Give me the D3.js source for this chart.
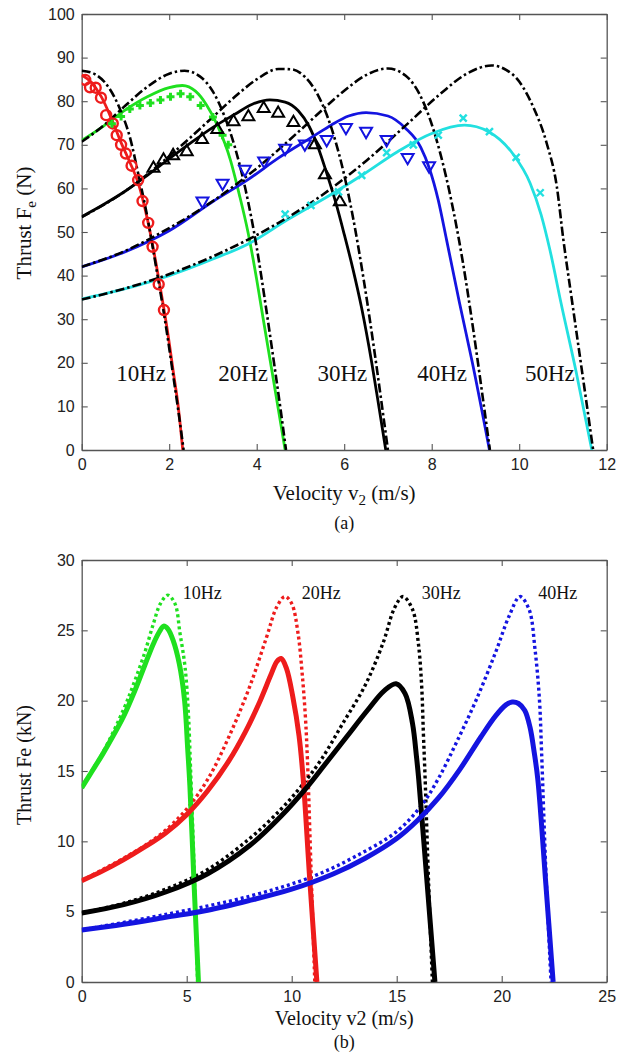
<!DOCTYPE html>
<html><head><meta charset="utf-8">
<script src="https://cdn.jsdelivr.net/npm/d3@7"></script>
<style>body{margin:0;background:#fff}svg{display:block}</style>
</head><body><svg id="c" width="629" height="1055"></svg>
<script>
// ---------------- DATA : panel (a) ----------------
const aXTicks = [0, 2, 4, 6, 8, 10, 12];
const aYTicks = [0, 10, 20, 30, 40, 50, 60, 70, 80, 90, 100];
const aFreqLabels = ["10Hz", "20Hz", "30Hz", "40Hz", "50Hz"];
const aFreqLabelX = [0.79, 3.12, 5.39, 7.67, 10.13];
const aFreqLabelY = 15.8;

// dash-dot (theory) curves
const aDash10 = [[0,87],[0.3,86.2],[0.6,83.4],[0.9,77.6],[1.1,71.8],[1.3,63],[1.5,53.5],[1.7,42],[1.9,30],[2.1,16.5],[2.2,9.6],[2.33,0]];
const aDash20 = [[0,70.7],[0.5,74.4],[1,79],[1.5,83.3],[2,86.3],[2.35,87],[2.7,85.7],[3,82.2],[3.25,76.9],[3.5,69.5],[3.75,59.5],[4,46.5],[4.2,33.5],[4.4,19.7],[4.55,9],[4.67,0]];
const aDash30 = [[0,53.4],[1,59.4],[2,67.4],[2.5,71.8],[3,76.4],[3.5,81],[4,85],[4.5,87.4],[4.8,87.3],[5.1,85.6],[5.4,81.4],[5.7,74.1],[5.95,65.2],[6.2,53.4],[6.45,38.8],[6.7,22],[6.85,11.1],[7,0]];
const aDash40 = [[0,42],[1,45.7],[2,50.9],[3,57.1],[4,64.6],[5,73.4],[5.5,78],[6,82.4],[6.5,86],[7,87.5],[7.4,85.9],[7.8,80],[8.1,71.5],[8.4,59.5],[8.7,43.8],[8.95,27.6],[9.15,13.3],[9.33,0]];
const aDash50 = [[0,34.5],[1.5,38.6],[3,44.4],[4.5,52.1],[5.5,58.5],[6.5,66.3],[7.5,75.3],[8.2,81.7],[8.8,86.3],[9.37,88.2],[9.7,87.2],[10,84.5],[10.32,78.7],[10.63,70.3],[10.86,60.4],[11.01,48.2],[11.2,34.7],[11.39,21.3],[11.55,10],[11.69,0]];

// solid (simulation) curves
const aLine10 = [[0,86],[0.2,84.5],[0.45,81],[0.7,75.5],[0.9,70.5],[1.1,66],[1.3,61],[1.5,53],[1.65,45.5],[1.8,37],[1.95,28],[2.1,17.5],[2.2,10.5],[2.31,0]];
const aLine20 = [[0,71],[0.5,74.3],[1,78],[1.5,81],[2,83.1],[2.3,83.6],[2.6,82.3],[2.85,79.2],[3.1,74.5],[3.4,66.5],[3.6,58.7],[3.8,50],[3.95,42],[4.15,30],[4.4,15],[4.65,0]];
const aLine30 = [[0,53.5],[0.5,56.3],[1,59.4],[1.5,63],[2,66.8],[2.5,70.5],[3,74],[3.5,77],[3.9,79.3],[4.3,80.3],[4.65,79.8],[4.95,77.8],[5.2,74.2],[5.4,69.5],[5.6,63.5],[5.8,57],[6,49.5],[6.2,41.5],[6.4,32.5],[6.63,20],[6.8,9.5],[6.95,0]];
const aLine40 = [[0,42],[1,45.5],[2,50.3],[3,57],[3.8,62],[4.5,67],[5.3,72],[5.7,74.5],[6.1,76.6],[6.5,77.4],[7,76.6],[7.4,73.8],[7.75,69.4],[7.95,64.5],[8.15,57.3],[8.34,48.2],[8.63,34],[8.93,20],[9.32,0]];
const aLine50 = [[0,34.6],[1,37],[2,40],[3,43.8],[3.85,47.5],[4.7,52.8],[5.7,58.6],[6.45,63.3],[7.2,68.3],[8,72.6],[8.75,74.5],[9.3,73],[9.85,68],[10.25,61.2],[10.5,54],[10.7,46],[10.95,34],[11.3,18],[11.66,0]];

// measured markers
const aMark10X = [0.08,0.19,0.32,0.44,0.56,0.71,0.8,0.9,1.01,1.14,1.29,1.39,1.52,1.62,1.76,1.88];
const aMark10Y = [84.9,83.2,83.1,80.8,76.8,74.9,72.2,70,68,65.2,61.9,57.1,52.1,46.6,38,32.1];
const aMark20X = [0.69,0.9,1.1,1.33,1.57,1.8,2.03,2.26,2.48,2.72,3.0,3.22,3.35];
const aMark20Y = [74.8,76.5,78.2,79,79.6,80.3,81,81.7,81,79,76.4,72.2,70];
const aMark30X = [1.64,1.87,2.09,2.4,2.75,3.1,3.47,3.81,4.16,4.49,4.84,5.33,5.56,5.9];
const aMark30Y = [64.6,66.5,67.5,68.4,71.2,73.5,75.3,76.4,78.3,77.2,75.1,70,63.1,56.9];
const aMark40X = [2.76,3.22,3.73,4.17,4.65,5.1,5.6,6.04,6.5,6.97,7.45,7.94];
const aMark40Y = [57.1,61.2,64.4,66.3,69.2,70.2,71.2,74,73.1,71.2,67.1,65.2];
const aMark50X = [4.65,5.24,5.87,6.4,6.97,7.58,8.15,8.72,9.32,9.93,10.48];
const aMark50Y = [54.1,56.1,59.2,63,68.2,70,72.2,76.1,73,67.1,59];

// ---------------- DATA : panel (b) ----------------
const bXTicks = [0, 5, 10, 15, 20, 25];
const bYTicks = [0, 5, 10, 15, 20, 25, 30];
const bFreqLabels = ["10Hz", "20Hz", "30Hz", "40Hz"];
const bFreqLabelX = [4.81, 10.48, 16.19, 21.74];
const bFreqLabelY = 27.2;

const bSolid10 = [[0,13.8],[0.5,15],[1,16.2],[1.5,17.5],[2,18.9],[2.5,20.6],[3,22.5],[3.4,24],[3.7,24.9],[3.9,25.3],[4.1,25.1],[4.35,24.3],[4.65,22.6],[4.9,20],[5.05,16.5],[5.15,14],[5.35,7],[5.56,0]];
const bDot10 = [[0,13.9],[1,16.3],[2,19.4],[2.5,21.3],[3,23.4],[3.4,25.4],[3.75,26.9],[4.1,27.5],[4.44,26.9],[4.68,24.8],[4.92,22.4],[5.08,19.1],[5.18,15.3],[5.32,9.5],[5.52,0]];
const bSolid20 = [[0,7.2],[1,7.9],[2,8.7],[3,9.6],[4,10.6],[5,11.9],[6,13.6],[7,15.7],[7.8,17.8],[8.5,20],[9,21.8],[9.3,22.8],[9.5,23],[9.75,22.3],[10.05,20.3],[10.35,17.5],[10.55,14.4],[10.85,7.5],[11.2,0]];
const bDot20 = [[0,7.2],[1,8],[2,8.8],[3,9.7],[4,10.8],[5,12.3],[6,14.4],[7,17.4],[8,21],[8.8,24.5],[9.3,26.7],[9.68,27.4],[10,26.9],[10.3,24.8],[10.5,21.9],[10.65,18.9],[10.75,15.8],[10.92,8],[11.1,0]];
const bSolid30 = [[0,4.9],[2,5.5],[4,6.4],[6,7.7],[8,9.7],[9.5,11.8],[10.7,13.8],[11.6,15.5],[12.6,17.4],[13.6,19.3],[14.4,20.7],[14.97,21.2],[15.4,20.5],[15.75,18.4],[15.95,15.9],[16.05,14.4],[16.45,7],[16.82,0]];
const bDot30 = [[0,4.9],[2,5.6],[4,6.6],[6,8],[8,10.2],[9.5,12.3],[10.5,14],[11.4,15.8],[12.4,18.3],[13.5,21.1],[14.35,24.1],[14.9,26.6],[15.3,27.4],[15.75,26.5],[16.03,24.1],[16.19,21],[16.27,17.7],[16.35,14.6],[16.52,7],[16.7,0]];
const bSolid40 = [[0,3.7],[2,4.1],[4,4.6],[6,5.1],[8,5.8],[10,6.6],[12,7.7],[13.5,8.8],[15,10.2],[16,11.5],[17,13.1],[18,15.1],[19,17.4],[19.7,18.9],[20.2,19.7],[20.5,19.9],[20.8,19.8],[21.1,19.3],[21.35,18.1],[21.55,16.3],[21.72,14.4],[22.1,7],[22.45,0]];
const bDot40 = [[0,3.7],[4,4.8],[8,6.1],[11,7.5],[13,8.9],[15,10.7],[16.2,12.6],[17,14.5],[17.9,17.2],[18.8,20.1],[19.7,23.4],[20.35,26],[20.87,27.4],[21.3,26.5],[21.59,23.6],[21.8,20],[21.9,16.3],[22.1,8],[22.35,0]];

// ---------------- DRAWING ----------------
const svg = d3.select('#c');
const SANS = '"Liberation Sans", Arial, Helvetica, sans-serif';
const SERIF = '"Liberation Serif", "Times New Roman", Times, serif';
const FRAME = '#555';
const GREEN = '#1fe01f', RED = '#ee1c1c', BLUE = '#1414e0', CYAN = '#22e0e0', BLACK = '#000';

function makeFrame(x, y, xTicks, yTicks, id) {
  const [x0, x1] = x.range(), [y0, y1] = y.range();
  svg.append('clipPath').attr('id', id).append('rect')
    .attr('x', x0).attr('y', y1).attr('width', x1 - x0).attr('height', y0 - y1);
  const axes = [
    [d3.axisBottom(x).tickValues(xTicks).tickPadding(9), `translate(0,${y0})`],
    [d3.axisTop(x).tickValues(xTicks).tickFormat(''), `translate(0,${y1})`],
    [d3.axisLeft(y).tickValues(yTicks).tickPadding(7), `translate(${x0},0)`],
    [d3.axisRight(y).tickValues(yTicks).tickFormat(''), `translate(${x1},0)`]
  ];
  axes.forEach(([ax, tr]) => {
    const g = svg.append('g').attr('transform', tr)
      .call(ax.tickSizeInner(-6).tickSizeOuter(0));
    g.attr('font-size', 16).attr('font-family', SANS);
    g.select('.domain').attr('stroke', FRAME).attr('stroke-width', 1.3);
    g.selectAll('.tick line').attr('stroke', FRAME).attr('stroke-width', 1.1);
    g.selectAll('.tick text').attr('fill', '#222');
  });
  return svg.append('g').attr('clip-path', `url(#${id})`);
}

function drawLine(g, x, y, data, color, width, dash, curve) {
  const line = d3.line().x(d => x(d[0])).y(d => y(d[1])).curve(curve || d3.curveMonotoneX);
  const p = g.append('path').datum(data).attr('d', line)
    .attr('fill', 'none').attr('stroke', color).attr('stroke-width', width)
    .attr('stroke-linejoin', 'round');
  if (dash) p.attr('stroke-dasharray', dash);
  return p;
}

// ---------- panel (a) ----------
const aX = d3.scaleLinear().domain([0, 12]).range([81.7, 606.7]);
const aY = d3.scaleLinear().domain([0, 100]).range([450, 14]);
const ga = makeFrame(aX, aY, aXTicks, aYTicks, 'clipA');

[[aLine10, RED], [aLine20, GREEN], [aLine30, BLACK], [aLine40, BLUE], [aLine50, CYAN]]
  .forEach(([d, c]) => drawLine(ga, aX, aY, d, c, 2.8));
[aDash10, aDash20, aDash30, aDash40, aDash50]
  .forEach(d => drawLine(ga, aX, aY, d, BLACK, 2.6, '9,3,2.5,3'));

const zip = (xs, ys) => xs.map((v, i) => [v, ys[i]]);
ga.selectAll('.m10').data(zip(aMark10X, aMark10Y)).enter().append('circle')
  .attr('cx', d => aX(d[0])).attr('cy', d => aY(d[1])).attr('r', 5)
  .attr('fill', 'none').attr('stroke', RED).attr('stroke-width', 2.4);
ga.selectAll('.m20').data(zip(aMark20X, aMark20Y)).enter().append('path')
  .attr('transform', d => `translate(${aX(d[0])},${aY(d[1])})`)
  .attr('d', 'M-4,0H4M0,-4V4').attr('stroke', GREEN).attr('stroke-width', 3).attr('fill', 'none');
const tri = d3.symbol(d3.symbolTriangle, 62);
ga.selectAll('.m30').data(zip(aMark30X, aMark30Y)).enter().append('path')
  .attr('transform', d => `translate(${aX(d[0])},${aY(d[1])})`)
  .attr('d', tri).attr('fill', 'none').attr('stroke', BLACK).attr('stroke-width', 2);
ga.selectAll('.m40').data(zip(aMark40X, aMark40Y)).enter().append('path')
  .attr('transform', d => `translate(${aX(d[0])},${aY(d[1])}) rotate(180)`)
  .attr('d', tri).attr('fill', 'none').attr('stroke', BLUE).attr('stroke-width', 2);
ga.selectAll('.m50').data(zip(aMark50X, aMark50Y)).enter().append('path')
  .attr('transform', d => `translate(${aX(d[0])},${aY(d[1])})`)
  .attr('d', 'M-3.5,-3.5L3.5,3.5M-3.5,3.5L3.5,-3.5').attr('stroke', CYAN).attr('stroke-width', 2.4).attr('fill', 'none');

svg.selectAll('.fa').data(aFreqLabels).enter().append('text')
  .attr('x', (d, i) => aX(aFreqLabelX[i])).attr('y', aY(aFreqLabelY))
  .attr('font-family', SERIF).attr('font-size', 23).attr('fill', '#111').text(d => d);

const xa = svg.append('text').attr('x', 344.2).attr('y', 500).attr('text-anchor', 'middle')
  .attr('font-family', SERIF).attr('font-size', 21).attr('fill', '#111');
xa.append('tspan').text('Velocity v');
xa.append('tspan').attr('dy', 5).attr('font-size', 15).text('2');
xa.append('tspan').attr('dy', -5).text(' (m/s)');
svg.append('text').attr('x', 344.2).attr('y', 529).attr('text-anchor', 'middle')
  .attr('font-family', SERIF).attr('font-size', 18).attr('fill', '#111').text('(a)');
const ya = svg.append('text').attr('transform', 'translate(31,223) rotate(-90)').attr('text-anchor', 'middle')
  .attr('font-family', SERIF).attr('font-size', 21).attr('fill', '#111');
ya.append('tspan').text('Thrust F');
ya.append('tspan').attr('dy', 5).attr('font-size', 15).text('e');
ya.append('tspan').attr('dy', -5).text(' (N)');

// ---------- panel (b) ----------
const bX = d3.scaleLinear().domain([0, 25]).range([81.7, 606.7]);
const bY = d3.scaleLinear().domain([0, 30]).range([982, 560]);
const gb = makeFrame(bX, bY, bXTicks, bYTicks, 'clipB');
const smooth = d3.curveCatmullRom.alpha(0.5);

[[bDot10, GREEN], [bDot20, RED], [bDot30, BLACK], [bDot40, BLUE]]
  .forEach(([d, c]) => drawLine(gb, bX, bY, d, c, 3.4, '3,3', smooth));
[[bSolid10, GREEN], [bSolid20, RED], [bSolid30, BLACK], [bSolid40, BLUE]]
  .forEach(([d, c]) => drawLine(gb, bX, bY, d, c, 5, null, smooth));

svg.selectAll('.fb').data(bFreqLabels).enter().append('text')
  .attr('x', (d, i) => bX(bFreqLabelX[i])).attr('y', bY(bFreqLabelY))
  .attr('font-family', SERIF).attr('font-size', 18).attr('fill', '#111').text(d => d);

svg.append('text').attr('x', 344.2).attr('y', 1025).attr('text-anchor', 'middle')
  .attr('font-family', SERIF).attr('font-size', 20).attr('fill', '#111').text('Velocity v2 (m/s)');
svg.append('text').attr('x', 344.2).attr('y', 1048).attr('text-anchor', 'middle')
  .attr('font-family', SERIF).attr('font-size', 18).attr('fill', '#111').text('(b)');
svg.append('text').attr('transform', 'translate(31,765) rotate(-90)').attr('text-anchor', 'middle')
  .attr('font-family', SERIF).attr('font-size', 20).attr('fill', '#111').text('Thrust Fe (kN)');
</script></body></html>
